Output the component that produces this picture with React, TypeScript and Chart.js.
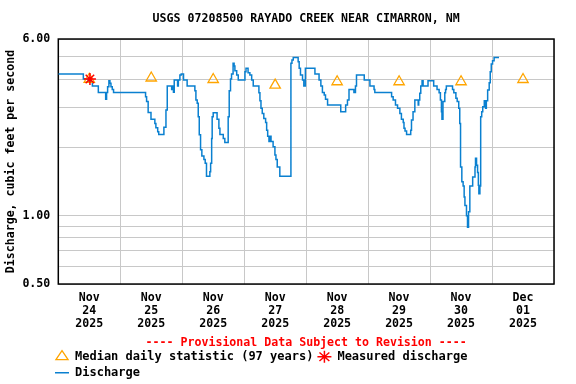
import { useEffect, useRef } from 'react';
import { Chart, registerables } from 'chart.js';

Chart.register(...registerables);

// ---- data ----
const chartTitle = 'USGS 07208500 RAYADO CREEK NEAR CIMARRON, NM';
const yAxisTitle = 'Discharge, cubic feet per second';
const provisionalNote = '---- Provisional Data Subject to Revision ----';

// hours since Nov 24 2025 00:00
const dayCenters = [12, 36, 60, 84, 108, 132, 156, 180];
const dayLabels = [
  ['Nov', '24', '2025'],
  ['Nov', '25', '2025'],
  ['Nov', '26', '2025'],
  ['Nov', '27', '2025'],
  ['Nov', '28', '2025'],
  ['Nov', '29', '2025'],
  ['Nov', '30', '2025'],
  ['Dec', '01', '2025'],
];

const yTickValues = [0.5, 0.6, 0.7, 0.8, 0.9, 1, 2, 3, 4, 5, 6];
const yLabeledTicks = [0.5, 1, 6];

const dischargeHours = [
  0, 9.7, 11.6, 13.2, 15.5, 18.35, 18.7, 19.1, 19.6, 20.0, 20.4, 20.9, 21.4,
  33.8, 34.2, 34.8, 35.9, 37.4, 37.8, 38.5, 38.9, 40.9, 41.7, 42.2, 43.9, 44.3,
  44.6, 44.9, 46.2, 46.5, 47.1, 47.6, 48.5, 49.9, 52.9, 53.3, 53.8, 54.2, 54.6,
  55.1, 55.6, 56.4, 56.9, 57.4, 58.7, 59.0, 59.4, 59.6, 60.0, 61.5, 62.2, 62.6,
  63.9, 64.5, 65.8, 66.2, 66.7, 67.1, 67.7, 68.1, 68.4, 69.1, 69.7, 72.3, 72.7,
  73.5, 74.2, 74.9, 75.5, 77.7, 78.1, 78.5, 79.0, 79.6, 80.3, 80.7, 81.1, 81.6,
  82.0, 82.4, 83.2, 83.9, 84.3, 84.8, 85.8, 90.1, 90.5, 91.0, 92.9, 93.3, 93.8,
  94.6, 95.1, 95.7, 99.4, 101.0, 101.7, 102.3, 103.0, 103.5, 104.3, 109.4,
  111.3, 112.0, 112.6, 114.5, 115.1, 115.5, 118.5, 120.7, 122.3, 122.6, 129.1,
  129.7, 130.6, 131.4, 132.3, 132.9, 133.6, 133.9, 134.3, 134.9, 136.5, 136.8,
  137.4, 138.1, 139.4, 139.6, 140.0, 140.4, 140.9, 141.3, 143.2, 145.4, 146.7,
  147.5, 148.0, 148.4, 148.6, 149.0, 149.7, 150.0, 150.3, 152.7, 153.2, 154.0,
  154.5, 155.1, 155.5, 155.8, 156.3, 156.8, 157.2, 157.5, 158.1, 158.5, 158.9,
  159.4, 160.5, 161.4, 161.6, 162.0, 162.4, 162.7, 162.9, 163.3, 163.6, 164.0,
  164.4, 165.0, 165.5, 165.8, 166.3, 166.9, 167.3, 167.7, 168.2, 168.8, 170.7,
];
const dischargeValues = [
  4.21, 4.0, 3.89, 3.73, 3.49, 3.26, 3.49, 3.7, 3.93, 3.83, 3.7, 3.6, 3.49,
  3.34, 3.18, 2.85, 2.66, 2.55, 2.44, 2.34, 2.28, 2.45, 2.92, 3.73, 3.6, 3.73,
  3.5, 3.96, 3.73, 3.96, 4.17, 4.21, 3.96, 3.73, 3.55, 3.23, 3.13, 2.73, 2.27,
  1.95, 1.83, 1.77, 1.7, 1.49, 1.56, 1.7, 2.19, 2.73, 2.84, 2.66, 2.43, 2.28,
  2.19, 2.1, 2.73, 3.55, 4.0, 4.21, 4.69, 4.56, 4.35, 4.17, 3.96, 4.31, 4.46,
  4.26, 4.17, 3.96, 3.73, 3.48, 3.21, 2.97, 2.82, 2.68, 2.57, 2.38, 2.24, 2.12,
  2.24, 2.12, 2.01, 1.85, 1.77, 1.64, 1.49, 4.69, 4.85, 4.98, 4.77, 4.46, 4.17,
  3.96, 3.73, 4.46, 4.21, 3.96, 3.73, 3.49, 3.4, 3.26, 3.07, 2.87,
  3.07, 3.23, 3.6, 3.49, 3.73, 4.17, 3.96, 3.73, 3.6, 3.49, 3.34,
  3.23, 3.07, 2.97, 2.82, 2.66, 2.57, 2.43, 2.36, 2.28, 2.38, 2.64,
  2.87, 3.23, 3.07, 3.23, 3.46, 3.73, 3.93, 3.73, 3.93, 3.73, 3.6,
  3.48, 3.23, 2.87, 2.66, 3.18, 3.48, 3.6, 3.73, 3.6, 3.48, 3.29,
  3.18, 2.97, 2.55, 1.64, 1.41, 1.35, 1.21, 1.11, 1.0, 0.89, 1.04,
  1.35, 1.48, 1.64, 1.79, 1.67, 1.55, 1.36, 1.25, 1.35, 2.73, 2.87,
  3.02, 3.21, 2.97, 3.21, 3.58, 3.85, 4.31, 4.66, 4.81, 4.98, 4.98,
];

const medianHours = [12, 36, 60, 84, 108, 132, 156, 180];
const medianValues = [3.99, 4.04, 3.98, 3.76, 3.89, 3.89, 3.89, 3.98];

const measuredHours = [12.25];
const measuredValues = [4.0];

// ---- styles ----
const FONT = "'DejaVu Sans Mono', monospace";
const BLUE = '#0a80d0';
const ORANGE = '#ffa500';
const RED = '#ff0000';
const GRID = '#c8c8c8';

export default function App() {
  const ref = useRef<HTMLCanvasElement>(null);

  useEffect(() => {
    document.body.style.margin = '0';
    const canvas = ref.current;
    if (!canvas) return;

    const frame = {
      id: 'plotFrame',
      afterLayout(chart: any) {
        // legend rows start a little left of the plot area, as in the original
        if (chart.legend) chart.legend.left = 51;
      },
      beforeDatasetsDraw(chart: any) {
        const { ctx, chartArea: a } = chart;
        ctx.save();
        ctx.strokeStyle = '#000';
        ctx.lineWidth = 1.5;
        ctx.strokeRect(a.left, a.top, a.right - a.left, a.bottom - a.top);
        ctx.restore();
      },
    };

    const baseFont = { family: FONT, size: 11.6, weight: 'bold' as const };

    const chart = new Chart(canvas, {
      type: 'line',
      data: {
        datasets: [
          {
            label: 'Measured discharge',
            data: measuredHours.map((h, i) => ({ x: h, y: measuredValues[i] })),
            showLine: false,
            pointStyle: 'star',
            pointRadius: 6,
            pointBorderWidth: 1.5,
            pointBorderColor: RED,
            pointBackgroundColor: 'rgba(0,0,0,0)',
            borderColor: RED,
          },
          {
            label: 'Median daily statistic (97 years)',
            data: medianHours.map((h, i) => ({ x: h, y: medianValues[i] })),
            showLine: false,
            pointStyle: 'triangle',
            pointRadius: 6,
            pointBorderWidth: 1.3,
            pointBorderColor: ORANGE,
            pointBackgroundColor: 'rgba(0,0,0,0)',
            borderColor: ORANGE,
          },
          {
            label: 'Discharge',
            data: dischargeHours.map((h, i) => ({ x: h, y: dischargeValues[i] })),
            stepped: true,
            borderColor: BLUE,
            borderWidth: 1.5,
            pointRadius: 0,
            fill: false,
          },
        ],
      },
      options: {
        responsive: false,
        animation: false,
        events: [],
        layout: { padding: { left: 0, right: 22, top: 0, bottom: -4.7 } },
        plugins: {
          tooltip: { enabled: false },
          title: {
            display: true,
            text: chartTitle,
            color: '#000',
            fullSize: false,
            font: { ...baseFont, lineHeight: 1.2 },
            padding: { top: 12.5, bottom: 12.6 },
          },
          legend: {
            display: true,
            position: 'bottom',
            align: 'start',
            fullSize: false,
            labels: {
              usePointStyle: true,
              pointStyleWidth: 14,
              boxHeight: 8.5,
              padding: 4,
              color: '#000',
              font: { family: FONT, size: 12, weight: 'bold' },
              generateLabels: () => [
                {
                  text: 'Median daily statistic (97 years)',
                  pointStyle: 'triangle',
                  strokeStyle: ORANGE,
                  fillStyle: 'rgba(0,0,0,0)',
                  lineWidth: 1.3,
                  fontColor: '#000',
                  hidden: false,
                  datasetIndex: 1,
                },
                {
                  text: 'Measured discharge',
                  pointStyle: 'star',
                  strokeStyle: RED,
                  fillStyle: 'rgba(0,0,0,0)',
                  lineWidth: 1.5,
                  fontColor: '#000',
                  hidden: false,
                  datasetIndex: 0,
                },
                {
                  text: 'Discharge',
                  pointStyle: 'line',
                  strokeStyle: BLUE,
                  fillStyle: BLUE,
                  lineWidth: 1.5,
                  fontColor: '#000',
                  hidden: false,
                  datasetIndex: 2,
                },
              ],
            },
          },
        },
        scales: {
          x: {
            type: 'linear',
            min: 0,
            max: 192,
            afterBuildTicks: (scale: any) => {
              scale.ticks = dayCenters.map((v) => ({ value: v }));
            },
            ticks: {
              autoSkip: false,
              maxRotation: 0,
              minRotation: 0,
              padding: 7.5,
              color: '#000',
              font: { ...baseFont, lineHeight: '13px' },
              callback: (_v: any, i: number) => dayLabels[i],
            },
            grid: { offset: true, color: GRID, lineWidth: 1, drawTicks: false },
            border: { display: false },
            title: {
              display: true,
              text: provisionalNote,
              color: RED,
              font: { ...baseFont, lineHeight: 1.2 },
              padding: { top: -2, bottom: -3.26 },
            },
          },
          y: {
            type: 'logarithmic',
            min: 0.5,
            max: 6,
            afterBuildTicks: (scale: any) => {
              scale.ticks = yTickValues.map((v) => ({ value: v }));
            },
            afterFit: (scale: any) => {
              scale.width = 58.3;
            },
            ticks: {
              autoSkip: false,
              padding: 8,
              color: '#000',
              font: baseFont,
              callback: (v: any) => (yLabeledTicks.includes(Number(v)) ? Number(v).toFixed(2) : ''),
            },
            grid: { color: GRID, lineWidth: 1, drawTicks: false },
            border: { display: false },
            title: {
              display: true,
              text: yAxisTitle,
              color: '#000',
              font: { ...baseFont, lineHeight: 1.2 },
              padding: { top: 4.2, bottom: 0 },
            },
          },
        },
      },
      plugins: [frame],
    } as any);

    return () => chart.destroy();
  }, []);

  return (
    <div style={{ width: 576, height: 384, background: '#fff' }}>
      <canvas ref={ref} width={576} height={384} style={{ display: 'block' }} />
    </div>
  );
}
